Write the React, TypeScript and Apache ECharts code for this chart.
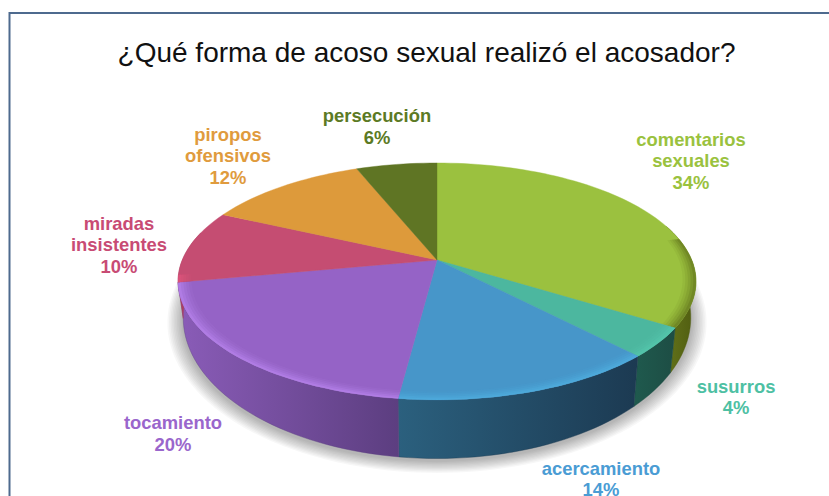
import React, { useEffect, useRef } from "react";
import * as echarts from "echarts";

const titleText = "¿Qué forma de acoso sexual realizó el acosador?";
const categories = ["comentarios\nsexuales", "susurros", "acercamiento", "tocamiento", "miradas\ninsistentes", "piropos\nofensivos", "persecución"];
const values = [34, 4, 14, 20, 10, 12, 6];
const topColors = ["#9bc13f", "#4cb79f", "#4796c9", "#9563c6", "#c54d72", "#dd9a3b", "#5f7524"];
const labelColors = ["#9ac23e", "#4dc0a3", "#4a9cd4", "#9a66cc", "#c84b74", "#e09b3d", "#5c7a24"];
const wallLeftColors = ["#66761c", "#1f5a4e", "#2b607e", "#8a5cb8", "#a83f60", "#b07a2c", "#4a5c1c"];
const wallRightColors = ["#4f5c10", "#1d4d44", "#1c3a52", "#5c3e80", "#a83f60", "#b07a2c", "#4a5c1c"];
const rimColors = ["#66781f", "#55c9ae", "#4fb0e0", "#bb85ee", "#e0557f", "#dd9a3b", "#5f7524"];

// label centres in page pixels
const labelCentres = [[691, 160.5], [736, 397], [601, 479], [173, 433.5], [119, 244.5], [228, 155.5], [377, 126.5]];

// perspective of the pie
const CX = 437, APEX_Y = 260, AX = 254.7, AY = 114.6, K = 0.181;
const BOTTOM_SX = 0.98, BOTTOM_SY = 1.19, BOTTOM_DY = 32;

const project = (pct: number, r: number, level: "top" | "bottom") => {
  const a = (pct / 100) * Math.PI * 2;
  const u = r * Math.sin(a);
  const v = -r * Math.cos(a);
  const w = 1 - K * v;
  const sx = level === "top" ? 1 : BOTTOM_SX;
  const sy = level === "top" ? 1 : BOTTOM_SY;
  const dy = level === "top" ? 0 : BOTTOM_DY;
  return [CX + (sx * AX * u) / w, APEX_Y + dy + (sy * AY * v) / w];
};
const arc = (from: number, to: number, r: number, level: "top" | "bottom") => {
  const pts: number[][] = [];
  const n = Math.max(2, Math.ceil(Math.abs(to - from) * 2));
  for (let i = 0; i <= n; i++) pts.push(project(from + ((to - from) * i) / n, r, level));
  return pts;
};

let acc = 0;
const sliceData = values.map((v, i) => {
  const row = [acc, acc + v, i];
  acc += v;
  return row;
});

const WALL_FROM = 20, WALL_TO = 79;

const renderWall = (_: any, api: any) => {
  const s = api.value(0), e = api.value(1), i = api.value(2);
  const from = Math.max(s, WALL_FROM), to = Math.min(e, WALL_TO);
  const children: any[] = [];
  if (i === 0) {
    for (let k = 0; k < 10; k++) {
      children.push({
        type: "polygon",
        y: 2,
        shape: { points: arc(0, 100, 1.06 - k * 0.006, "bottom") },
        style: { fill: "#000", opacity: 0.032 },
      });
    }
  }
  if (to > from) {
    children.push({
      type: "polygon",
      shape: { points: [...arc(from, to, 1, "top"), ...arc(to, from, 1, "bottom")] },
      style: {
        fill: {
          type: "linear", x: i < 3 ? 1 : 0, y: 0, x2: i < 3 ? 0 : 1, y2: 0,
          colorStops: [{ offset: 0, color: i < 3 ? wallRightColors[i] : wallLeftColors[i] }, { offset: 1, color: i < 3 ? wallLeftColors[i] : wallRightColors[i] }],
        },
        stroke: wallRightColors[i],
        lineWidth: 0.4,
      },
    });
  }
  return { type: "group", children };
};

const renderTop = (_: any, api: any) => {
  const s = api.value(0), e = api.value(1), i = api.value(2);
  const children: any[] = [
    {
      type: "polygon",
      shape: { points: [project(0, 0, "top"), ...arc(s, e, 1, "top")] },
      style: { fill: topColors[i], stroke: topColors[i], lineWidth: 0.4 },
    },
  ];
  const strips = [[0.95, 0.1], [0.96, 0.14], [0.97, 0.2], [0.98, 0.3], [0.99, 0.45]];
  const from = Math.max(s, 22), to = Math.min(e, 73);
  if (to > from) {
    strips.forEach(([r, op]) => {
      children.push({
        type: "polygon",
        shape: { points: [...arc(from, to, 1, "top"), ...arc(to, from, r, "top")] },
        style: { fill: rimColors[i], opacity: op },
      });
    });
  }
  return { type: "group", children };
};

const renderLabel = (_: any, api: any) => {
  const i = api.value(2);
  return {
    type: "text",
    x: labelCentres[i][0],
    y: labelCentres[i][1],
    style: {
      text: `${categories[i]}\n${values[i]}%`,
      fill: labelColors[i],
      font: 'bold 18.4px "Liberation Sans", Arial, sans-serif',
      lineHeight: 21.5,
      align: "center",
      verticalAlign: "middle",
    },
  };
};

export default function App() {
  const ref = useRef<HTMLDivElement>(null);
  useEffect(() => {
    document.body.style.margin = "0";
    document.body.style.overflow = "hidden";
    const chart = echarts.init(ref.current!, undefined, { renderer: "svg" });
    chart.setOption({
      animation: false,
      backgroundColor: "#ffffff",
      title: {
        text: titleText,
        left: 421.5,
        top: 33,
        textAlign: "center",
        textStyle: { color: "#111111", fontSize: 28, fontWeight: "normal", fontFamily: '"Liberation Sans", Arial, sans-serif' },
      },
      graphic: [
        {
          type: "rect",
          shape: { x: 9.5, y: 13, width: 900, height: 600 },
          style: { fill: "none", stroke: "#4e6a8e", lineWidth: 2 },
        },
      ],
      series: [
        { type: "custom", coordinateSystem: "none", renderItem: renderWall, data: sliceData, silent: true, z: 2 },
        { type: "custom", coordinateSystem: "none", renderItem: renderTop, data: sliceData, silent: true, z: 3 },
        { type: "custom", coordinateSystem: "none", renderItem: renderLabel, data: sliceData, silent: true, z: 4 },
      ],
    });
    return () => chart.dispose();
  }, []);
  return <div ref={ref} style={{ position: "absolute", left: 0, top: 0, width: 829, height: 496 }} />;
}
